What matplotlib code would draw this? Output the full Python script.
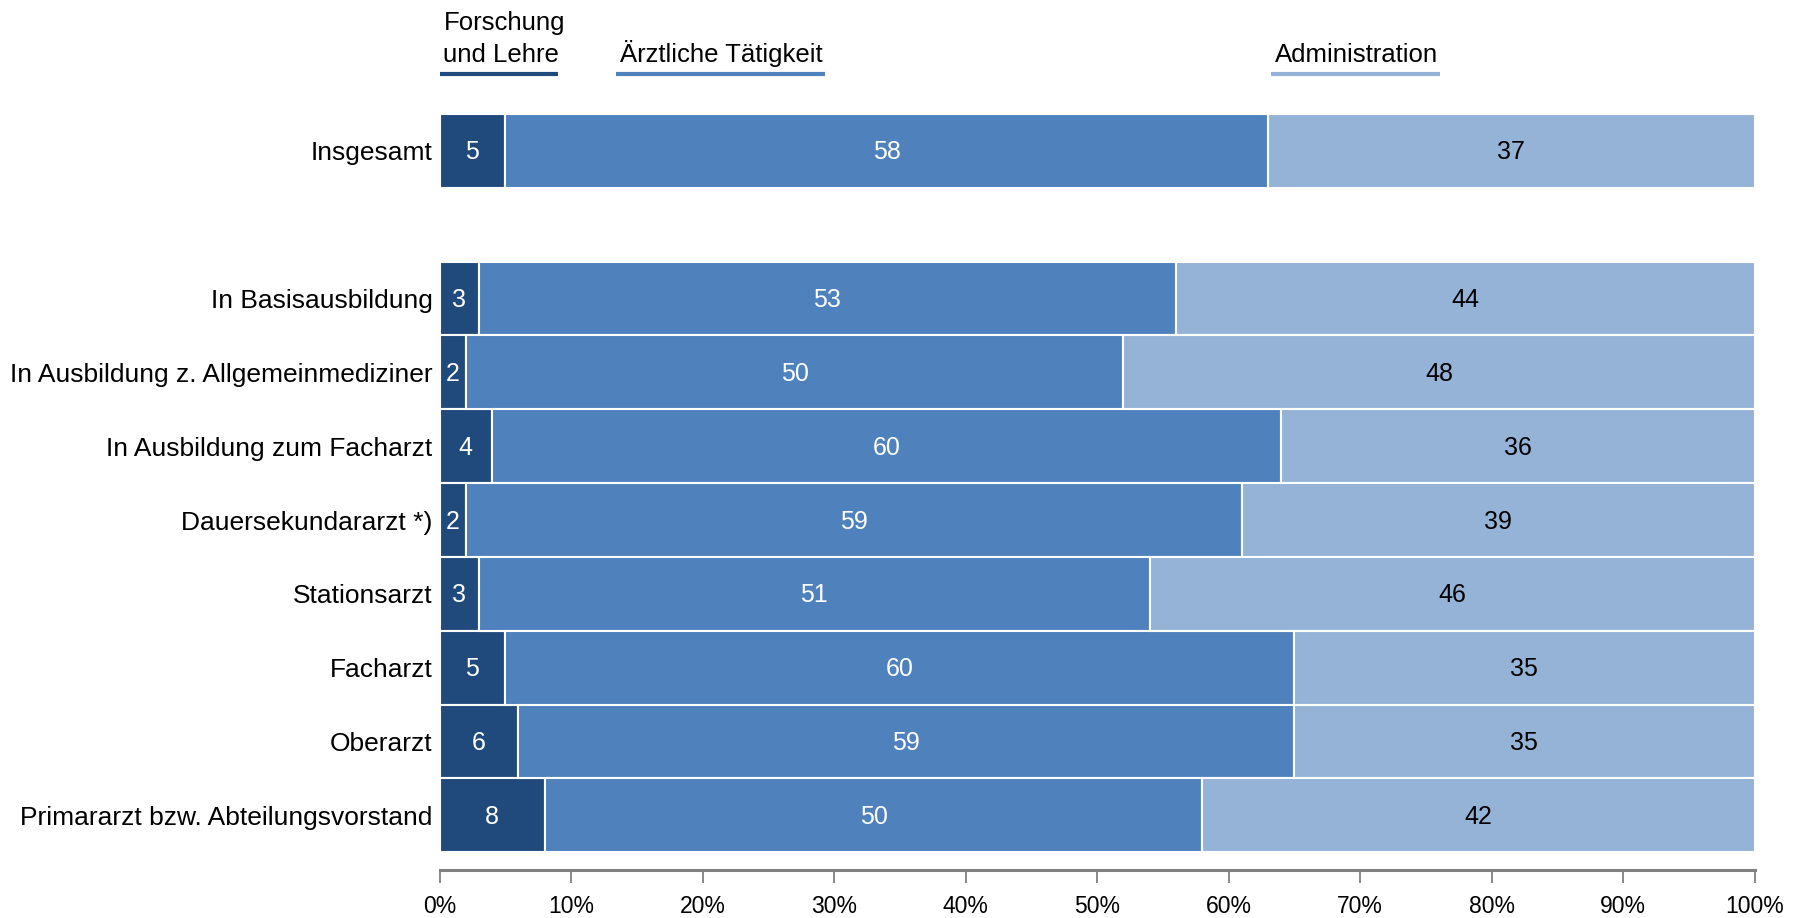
import matplotlib.pyplot as plt
import numpy as np

plt.rcParams['font.family'] = ['Liberation Sans', 'DejaVu Sans']

categories = ["Insgesamt", "In Basisausbildung", "In Ausbildung z. Allgemeinmediziner",
              "In Ausbildung zum Facharzt", "Dauersekundararzt *)", "Stationsarzt",
              "Facharzt", "Oberarzt", "Primararzt bzw. Abteilungsvorstand"]
forschung = [5, 3, 2, 4, 2, 3, 5, 6, 8]
aerztlich = [58, 53, 50, 60, 59, 51, 60, 59, 50]
admin = [37, 44, 48, 36, 39, 46, 35, 35, 42]
series_names = ["Forschung\nund Lehre", "Ärztliche Tätigkeit", "Administration"]
colors = ["#214a7c", "#4f81bd", "#95b3d7"]
text_colors = ["white", "white", "black"]
xticks = np.arange(0, 101, 10)

# Insgesamt steht etwas abgesetzt oben
ypos = [0] + list(range(2, 2 + len(categories) - 1))

fig = plt.figure(figsize=(17.94, 9.18), dpi=100)
ax = fig.add_axes([0.245, 0.0523, 0.733, 0.8235])

left = np.zeros(len(categories))
for vals, c, tc in zip([forschung, aerztlich, admin], colors, text_colors):
    vals = np.array(vals, dtype=float)
    bars = ax.barh(ypos, vals, left=left, height=1.0, color=c, edgecolor="white", linewidth=1.5)
    for b, v in zip(bars, vals):
        ax.text(b.get_x() + b.get_width() / 2, b.get_y() + b.get_height() / 2 + 0.02, "%d" % v,
                ha="center", va="center", color=tc, fontsize=18)
    left += vals

ax.set_xlim(0, 100)
ax.set_ylim(9.74, -0.5)
ax.set_yticks(ypos)
ax.set_yticklabels(categories, fontsize=19)
ax.tick_params(axis="y", length=0, pad=5)
ax.set_xticks(xticks)
ax.set_xticklabels(["%d%%" % t for t in xticks], fontsize=16.5)
ax.tick_params(axis="x", direction="out", length=9, width=1.3, color="#808080", pad=9)
for s in ["top", "right", "left"]:
    ax.spines[s].set_visible(False)
ax.spines["bottom"].set_color("#808080")
ax.spines["bottom"].set_linewidth(2.2)

# Legende als Linien mit Text darueber
leg_x = [(0, 9), (13.4, 29.3), (63.2, 76.1)]
for (x0, x1), name, c in zip(leg_x, series_names, colors):
    ax.plot([x0, x1], [-1.04, -1.04], color=c, linewidth=3, clip_on=False, solid_capstyle="butt")
    ax.text(x0 + 0.3, -1.14, name, ha="left", va="bottom", fontsize=18.5, clip_on=False,
            linespacing=1.4)

fig.savefig("out.png", dpi=100)
